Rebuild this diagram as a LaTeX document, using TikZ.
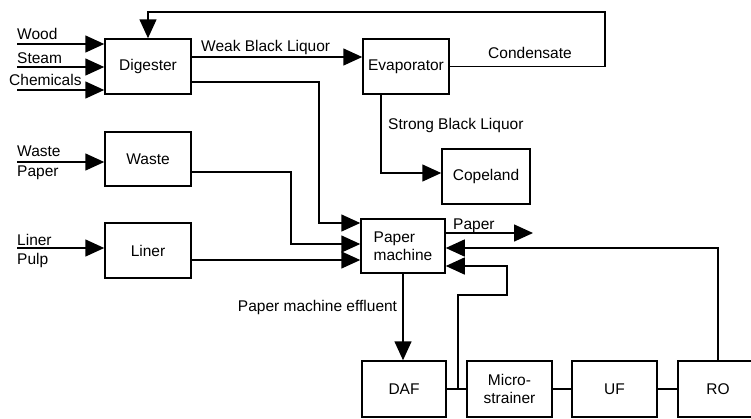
\documentclass[tikz,border=0pt]{standalone}
\usepackage{fontspec}
\setmainfont{Liberation Sans}
\usetikzlibrary{arrows.meta,positioning}
\tikzset{
  procbox/.style={
    draw=black,
    line width=1.5pt,
    align=center,
    minimum width=86pt,
    minimum height=55pt,
    inner sep=2pt,
    font=\fontsize{15.5}{18}\selectfont
  },
  flowlabel/.style={
    inner sep=0pt,
    anchor=base west,
    font=\fontsize{15.5}{18}\selectfont
  },
  flowarrow/.style={
    -{Triangle[length=19pt,width=17pt]},
    line width=1.5pt
  },
  flowline/.style={
    line width=1.5pt
  }
}

\begin{document}
\begin{tikzpicture}[x=1pt,y=-1pt]
  \fill[white] (0,0) rectangle (751,418);
  \clip (0,0) rectangle (751,418);

  \node[procbox] (digester) at (148,66.5) {Digester};
  \node[procbox] (evaporator) at (406,66.5) {Evaporator};
  \node[procbox, minimum width=88pt] (copeland) at (486,176.5) {Copeland};
  \node[procbox, minimum height=54pt] (waste) at (148,159) {Waste};
  \node[procbox] (liner) at (148,250.5) {Liner};
  \node[procbox, align=left, minimum width=84pt, minimum height=54pt] (papermachine) at (403,246) {Paper\\machine};
  \node[procbox, minimum width=84pt, minimum height=56pt] (daf) at (404,389) {DAF};
  \node[procbox, minimum width=85pt, minimum height=56pt] (micro) at (509.5,389) {Micro-\\strainer};
  \node[procbox, minimum width=85pt, minimum height=56pt] (uf) at (614.5,389) {UF};
  \node[procbox, minimum width=80pt, minimum height=56pt] (ro) at (718,389) {RO};

  \coordinate (woodin) at (17,44);
  \coordinate (steamin) at (17,67);
  \coordinate (chemin) at (17,90);
  \coordinate (wastein) at (17,162);
  \coordinate (linerin) at (17,248);
  \coordinate (condtop) at (605,12);
  \coordinate (bendwbl) at (319,223);
  \coordinate (bendwaste) at (291,244);
  \coordinate (paperout) at (533,233);
  \coordinate (msjoin) at (458,388);
  \coordinate (bendms) at (507,295);

  \node[flowlabel] (woodlbl) at (17,39.5) {Wood};
  \node[flowlabel] (steamlbl) at (17,63) {Steam};
  \node[flowlabel] (chemlbl) at (9,85) {Chemicals};
  \node[flowlabel] (wastelbl) at (17,156) {Waste};
  \node[flowlabel] (wpaperlbl) at (17,176) {Paper};
  \node[flowlabel] (linerlbl) at (17,245) {Liner};
  \node[flowlabel] (pulplbl) at (17,264) {Pulp};
  \node[flowlabel] (wbllbl) at (201,51) {Weak Black Liquor};
  \node[flowlabel] (condlbl) at (488,58) {Condensate};
  \node[flowlabel] (sbllbl) at (388,129) {Strong Black Liquor};
  \node[flowlabel] (paperlbl) at (453,229) {Paper};
  \node[flowlabel, anchor=base] (effllbl) at (317.5,311) {Paper machine effluent};

  \draw[flowarrow] (woodin) -- (woodin -| digester.west);
  \draw[flowarrow] (steamin) -- (steamin -| digester.west);
  \draw[flowarrow] (chemin) -- (chemin -| digester.west);
  \draw[flowarrow] (wastein) -- (wastein -| waste.west);
  \draw[flowarrow] (linerin) -- (linerin -| liner.west);

  \draw[flowarrow] ([yshift=9.5pt]digester.east) -- ([yshift=9.5pt]evaporator.west);
  \draw[flowarrow] (evaporator.east) -| (condtop) -| (digester.north);
  \draw[flowarrow] ([xshift=-25pt]evaporator.south) |- ([yshift=3.5pt]copeland.west);

  \draw[flowarrow] ([yshift=-15.5pt]digester.east) -| (bendwbl) -- (bendwbl -| papermachine.west);
  \draw[flowarrow] ([yshift=-13pt]waste.east) -| (bendwaste) -- (bendwaste -| papermachine.west);
  \draw[flowarrow] ([yshift=-9.5pt]liner.east) -- ([yshift=-14pt]papermachine.west);

  \draw[flowarrow] (papermachine.east |- paperout) -- (paperout);
  \draw[flowarrow] (ro.north) |- ([yshift=-2pt]papermachine.east);
  \draw[flowarrow] (msjoin) |- (bendms) |- ([yshift=-20pt]papermachine.east);
  \draw[flowarrow] (papermachine.south) -- (papermachine.south |- daf.north);

  \draw[flowline] (daf) -- (micro);
  \draw[flowline] (micro) -- (uf);
  \draw[flowline] (uf) -- (ro);
\end{tikzpicture}
\end{document}
